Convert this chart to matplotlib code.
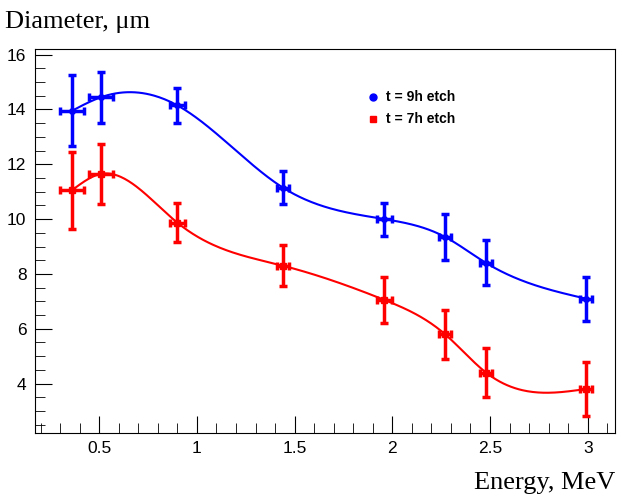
import numpy as np
import matplotlib
matplotlib.use("Agg")
import matplotlib.pyplot as plt
from matplotlib.ticker import MultipleLocator

# energy points, MeV
energy = [0.36, 0.51, 0.90, 1.44, 1.96, 2.27, 2.48, 2.99]
energy_err = [0.06, 0.06, 0.04, 0.03, 0.04, 0.03, 0.03, 0.03]

# t = 9h etch
d9 = [13.95, 14.45, 14.15, 11.15, 10.0, 9.35, 8.4, 7.1]
d9_err = [1.3, 0.93, 0.63, 0.6, 0.6, 0.85, 0.82, 0.8]

# t = 7h etch
d7 = [11.05, 11.65, 9.87, 8.3, 7.05, 5.8, 4.4, 3.8]
d7_err = [1.4, 1.1, 0.7, 0.75, 0.85, 0.9, 0.9, 1.0]


def spline(x, y, n=400):
    # natural cubic spline through the points
    x = np.asarray(x, float)
    y = np.asarray(y, float)
    m = len(x)
    h = np.diff(x)
    A = np.zeros((m, m))
    b = np.zeros(m)
    A[0, 0] = A[-1, -1] = 1
    for i in range(1, m - 1):
        A[i, i - 1] = h[i - 1]
        A[i, i] = 2 * (h[i - 1] + h[i])
        A[i, i + 1] = h[i]
        b[i] = 6 * ((y[i + 1] - y[i]) / h[i] - (y[i] - y[i - 1]) / h[i - 1])
    M = np.linalg.solve(A, b)
    xs = np.linspace(x[0], x[-1], n)
    idx = np.clip(np.searchsorted(x, xs) - 1, 0, m - 2)
    x0, x1 = x[idx], x[idx + 1]
    hh = x1 - x0
    ys = (M[idx] * (x1 - xs) ** 3 / (6 * hh) + M[idx + 1] * (xs - x0) ** 3 / (6 * hh)
          + (y[idx] / hh - M[idx] * hh / 6) * (x1 - xs)
          + (y[idx + 1] / hh - M[idx + 1] * hh / 6) * (xs - x0))
    return xs, ys


fig = plt.figure(figsize=(6.2, 4.97), dpi=100)
ax = fig.add_axes([0.056, 0.129, 0.936, 0.772])

for yv, ye, col, mk, lab in [(d9, d9_err, "#0000ff", "o", "t = 9h etch"),
                             (d7, d7_err, "#ff0000", "s", "t = 7h etch")]:
    xs, ys = spline(energy, yv)
    ax.plot(xs, ys, color=col, lw=1.5)
    ax.errorbar(energy, yv, yerr=ye, xerr=energy_err, fmt=mk, color=col,
                ms=4, elinewidth=2.5, capsize=3, capthick=2.5, label=lab)

ax.set_xlim(0.17, 3.14)
ax.set_ylim(2.2, 16.2)
ax.xaxis.set_major_locator(MultipleLocator(0.5))
ax.xaxis.set_minor_locator(MultipleLocator(0.1))
ax.yaxis.set_major_locator(MultipleLocator(2))
ax.yaxis.set_minor_locator(MultipleLocator(0.5))
ax.tick_params(which="both", direction="in", top=False, right=False,
               labelsize=12.5, pad=6)
ax.tick_params(which="major", length=12)
ax.tick_params(which="minor", length=7)
ax.xaxis.set_major_formatter(plt.FuncFormatter(lambda v, p: f"{v:g}"))
for lbl in ax.get_xticklabels() + ax.get_yticklabels():
    lbl.set_fontfamily("Liberation Sans")

fig.text(0.008, 0.955, "Diameter, \u03bcm", family="Liberation Serif", fontsize=19,
         ha="left", va="center")
fig.text(0.992, 0.028, "Energy, MeV", family="Liberation Serif", fontsize=19,
         ha="right", va="center")

# legend, drawn by hand like the ROOT one
fig.text(386 / 620, 1 - 97 / 497, "t = 9h etch", family="Liberation Sans",
         fontweight="bold", fontsize=10, va="center")
fig.text(386 / 620, 1 - 119 / 497, "t = 7h etch", family="Liberation Sans",
         fontweight="bold", fontsize=10, va="center")
fig.lines.append(plt.Line2D([373 / 620], [1 - 97 / 497], marker="o", ms=5,
                            color="#0000ff", transform=fig.transFigure))
fig.lines.append(plt.Line2D([373 / 620], [1 - 119 / 497], marker="s", ms=5,
                            color="#ff0000", transform=fig.transFigure))

fig.savefig("out.png", dpi=100)
